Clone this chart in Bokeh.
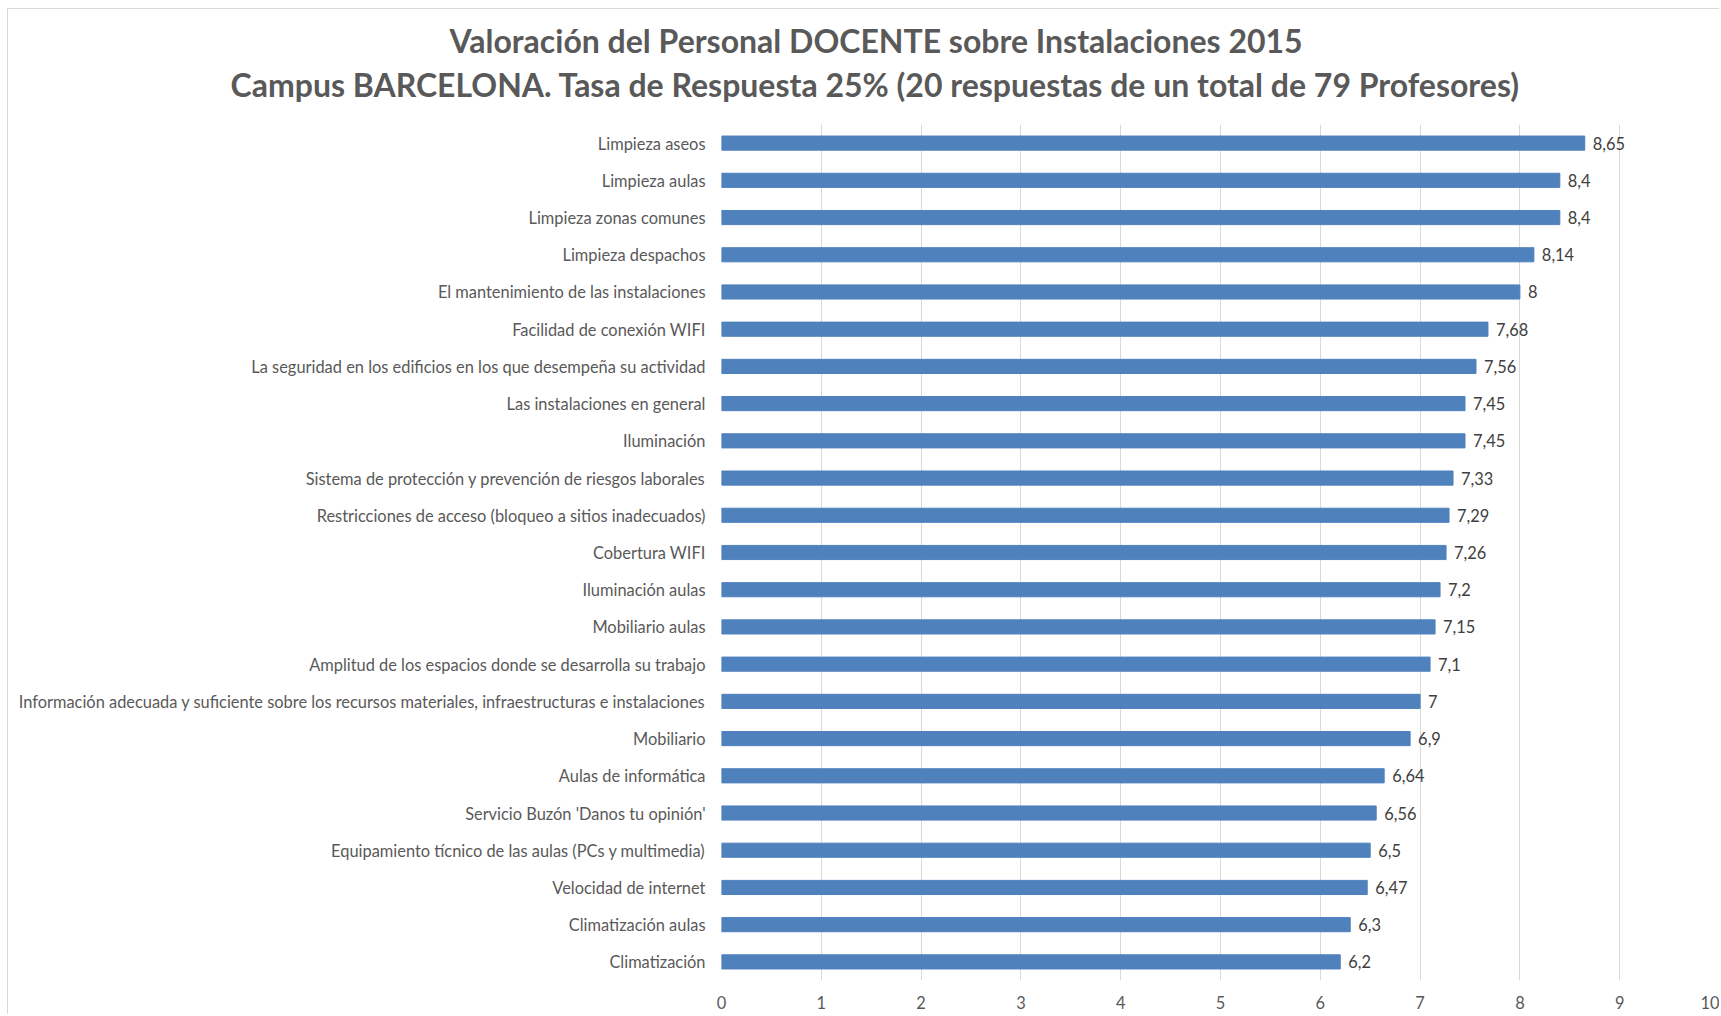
from bokeh.plotting import figure
from bokeh.models import FactorRange, Range1d, FixedTicker, Title, ColumnDataSource, Spacer
from bokeh.layouts import column, row
from bokeh.core.properties import value
from bokeh.embed import file_html
from bokeh.resources import INLINE

title_line1 = "Valoración del Personal DOCENTE sobre Instalaciones 2015"
title_line2 = "Campus BARCELONA. Tasa de Respuesta 25% (20 respuestas de un total de 79 Profesores)"

categories = [
    "Limpieza aseos",
    "Limpieza aulas",
    "Limpieza zonas comunes",
    "Limpieza despachos",
    "El mantenimiento de las instalaciones",
    "Facilidad de conexión WIFI",
    "La seguridad en los edificios en los que desempeña su actividad",
    "Las instalaciones en general",
    "Iluminación",
    "Sistema de protección y prevención de riesgos laborales",
    "Restricciones de acceso (bloqueo a sitios inadecuados)",
    "Cobertura WIFI",
    "Iluminación aulas",
    "Mobiliario aulas",
    "Amplitud de los espacios donde se desarrolla su trabajo",
    "Información adecuada y suficiente sobre los recursos materiales, infraestructuras e instalaciones",
    "Mobiliario",
    "Aulas de informática",
    "Servicio Buzón 'Danos tu opinión'",
    "Equipamiento tícnico de las aulas (PCs y multimedia)",
    "Velocidad de internet",
    "Climatización aulas",
    "Climatización",
]
scores = [8.65, 8.4, 8.4, 8.14, 8, 7.68, 7.56, 7.45, 7.45, 7.33, 7.29, 7.26,
          7.2, 7.15, 7.1, 7, 6.9, 6.64, 6.56, 6.5, 6.47, 6.3, 6.2]
value_labels = ["8,65", "8,4", "8,4", "8,14", "8", "7,68", "7,56", "7,45", "7,45",
                "7,33", "7,29", "7,26", "7,2", "7,15", "7,1", "7", "6,9", "6,64",
                "6,56", "6,5", "6,47", "6,3", "6,2"]
x_ticks = [0, 1, 2, 3, 4, 5, 6, 7, 8, 9, 10]

FONT = "Lato"
BAR = "#4F81BD"
LABEL_SIZE = "16.4px"
TITLE_SIZE = "32px"
BORDER = "1px solid #d9d9d9"

src = ColumnDataSource(dict(cat=categories, val=scores, lab=value_labels))

p = figure(
    width=1712, height=1006,
    y_range=FactorRange(factors=list(reversed(categories)), range_padding=0),
    x_range=Range1d(0, 10.01),
    output_backend="svg", toolbar_location=None,
    min_border_left=713, min_border_right=0, min_border_top=115, min_border_bottom=35,
    background_fill_color="white", border_fill_color="white",
)
p.outline_line_color = None
p.styles = {"border-top": BORDER, "border-left": BORDER}

# title block (first added sits nearest the plot area)
p.add_layout(Title(text=" ", text_font_size="1px", standoff=11), "above")
p.add_layout(Title(text=title_line2, align="left", offset=-491, standoff=10,
                   vertical_align="top", text_font=FONT, text_font_style="bold",
                   text_font_size=TITLE_SIZE, text_color="#595959"), "above")
p.add_layout(Title(text=title_line1, align="left", offset=-272, standoff=0,
                   vertical_align="bottom", text_font=FONT, text_font_style="bold",
                   text_font_size=TITLE_SIZE, text_color="#595959"), "above")

p.hbar(y="cat", right="val", left=0, height=0.38, source=src,
       fill_color=BAR, line_color=BAR)

p.text(x="val", y="cat", text="lab", source=src, x_offset=8,
       text_baseline="middle", text_align="left",
       text_font=value(FONT), text_font_size=LABEL_SIZE, text_color="#404040")

p.xgrid.ticker = FixedTicker(ticks=x_ticks)
p.xgrid.grid_line_color = "#d9d9d9"
p.ygrid.grid_line_color = None

p.xaxis.ticker = FixedTicker(ticks=x_ticks)
p.xaxis.axis_line_color = None
p.xaxis.major_tick_line_color = None
p.xaxis.minor_tick_line_color = None
p.xaxis.major_tick_in = 0
p.xaxis.major_tick_out = 0
p.xaxis.major_label_standoff = 15
p.xaxis.major_label_text_font = FONT
p.xaxis.major_label_text_font_size = LABEL_SIZE
p.xaxis.major_label_text_color = "#595959"

p.yaxis.axis_line_color = None
p.yaxis.major_tick_line_color = None
p.yaxis.minor_tick_line_color = None
p.yaxis.major_tick_in = 0
p.yaxis.major_tick_out = 0
p.yaxis.major_label_standoff = 16
p.yaxis.major_label_text_font = FONT
p.yaxis.major_label_text_font_size = LABEL_SIZE
p.yaxis.major_label_text_color = "#595959"

layout = column(Spacer(height=8, width=1720),
                row(Spacer(width=7, height=1007), p))

open("out.html", "w").write(file_html(layout, INLINE))
